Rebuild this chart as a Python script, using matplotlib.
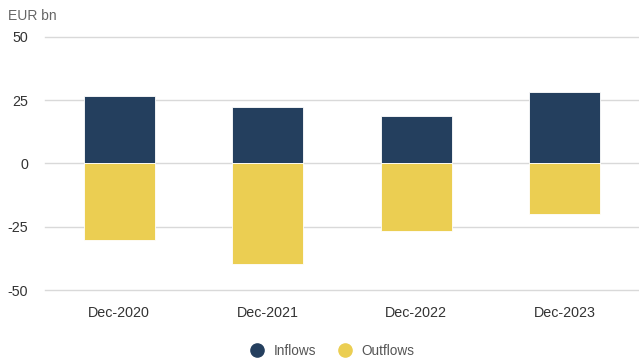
import matplotlib.pyplot as plt
from matplotlib.lines import Line2D

plt.rcParams['font.family'] = ['Liberation Sans', 'DejaVu Sans']

categories = ["Dec-2020", "Dec-2021", "Dec-2022", "Dec-2023"]
inflows = [26.5, 22.3, 18.6, 28.1]
outflows = [-30.4, -39.9, -26.5, -19.8]
yticks = [-50, -25, 0, 25, 50]

navy = "#243f5e"
yellow = "#ebce52"

fig = plt.figure(figsize=(6.39, 3.62), dpi=100)
ax = fig.add_axes([45 / 639, 1 - 290 / 362, 594 / 639, 253 / 362])

x = range(len(categories))
ax.bar(x, inflows, width=0.48, color=navy, edgecolor="white", linewidth=0.6, zorder=3)
ax.bar(x, outflows, width=0.48, color=yellow, edgecolor="white", linewidth=0.6, zorder=3)

ax.set_xlim(-0.5, 3.5)
ax.set_ylim(-50, 50)
ax.set_yticks(yticks)
ax.set_yticklabels([str(v) for v in yticks])
ax.set_xticks(list(x))
ax.set_xticklabels(categories)
ax.grid(axis="y", color="#d9d9d9", linewidth=1.0, zorder=0)
for gl in ax.get_ygridlines():
    gl.set_clip_on(False)
for s in ax.spines.values():
    s.set_visible(False)
ax.tick_params(axis="both", length=0, labelsize=10.3, colors="#333333")
ax.tick_params(axis="y", pad=12)
ax.tick_params(axis="x", pad=11.5)

fig.text(8 / 639, 1 - 16 / 362, "EUR bn", fontsize=10, color="#666666", va="center", ha="left")

handles = [
    Line2D([], [], marker="o", linestyle="none", markersize=9.5, color=navy),
    Line2D([], [], marker="o", linestyle="none", markersize=9.5, color=yellow),
]
fig.legend(handles, ["Inflows", "Outflows"], loc="center", bbox_to_anchor=(329 / 639, 1 - 351 / 362),
           ncol=2, frameon=False, fontsize=9.8, handletextpad=0.2, columnspacing=1.1,
           labelcolor="#555555")

fig.savefig("out.png", dpi=100)
